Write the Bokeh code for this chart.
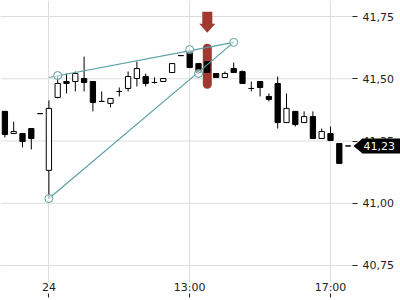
from bokeh.plotting import figure
from bokeh.models import Range1d, FixedTicker, Label, PolyAnnotation, BoxAnnotation, ColumnDataSource
from bokeh.embed import file_html
from bokeh.resources import INLINE

# ---- data (15-minute candles) ----
opens = [41.369, 41.280, 41.280, 41.300, 41.360, 41.132, 41.425, 41.489, 41.489, 41.501,
         41.489, 41.409, 41.401, 41.449, 41.461, 41.501, 41.509, 41.485, 41.489, 41.525,
         41.593, 41.609, 41.561, 41.569, 41.521, 41.505, 41.541, 41.529, 41.461, 41.489,
         41.429, 41.481, 41.324, 41.369, 41.324, 41.348, 41.260, 41.280, 41.240, 41.230]
highs = [41.369, 41.328, 41.280, 41.300, 41.360, 41.413, 41.513, 41.521, 41.529, 41.589,
         41.489, 41.449, 41.421, 41.465, 41.529, 41.569, 41.521, 41.505, 41.501, 41.561,
         41.593, 41.617, 41.561, 41.569, 41.521, 41.529, 41.565, 41.533, 41.489, 41.489,
         41.441, 41.509, 41.441, 41.369, 41.369, 41.369, 41.300, 41.308, 41.240, 41.230]
lows = [41.264, 41.280, 41.224, 41.216, 41.360, 41.019, 41.421, 41.441, 41.449, 41.449,
        41.369, 41.409, 41.385, 41.429, 41.449, 41.469, 41.469, 41.481, 41.489, 41.525,
        41.593, 41.545, 41.521, 41.525, 41.505, 41.505, 41.525, 41.481, 41.449, 41.429,
        41.409, 41.300, 41.324, 41.308, 41.324, 41.260, 41.260, 41.252, 41.160, 41.230]
closes = [41.276, 41.288, 41.248, 41.260, 41.360, 41.381, 41.481, 41.481, 41.521, 41.485,
          41.405, 41.409, 41.421, 41.449, 41.509, 41.541, 41.481, 41.485, 41.501, 41.561,
          41.593, 41.545, 41.525, 41.525, 41.505, 41.521, 41.525, 41.481, 41.461, 41.465,
          41.417, 41.324, 41.381, 41.316, 41.348, 41.260, 41.288, 41.252, 41.160, 41.230]

x_tick_positions = [5, 21, 37]
x_tick_labels = ["24", "13:00", "17:00"]
y_ticks = [40.75, 41.00, 41.25, 41.50, 41.75]
y_tick_labels = ["40,75", "41,00", "41,25", "41,50", "41,75"]

# drawing tools (trend lines and their anchor points)
line1_x = [5, 26]
line1_y = [41.505, 41.646]
line2_x = [5, 26]
line2_y = [41.019, 41.646]
anchor_x = [5, 6, 21, 22, 26]
anchor_y = [41.019, 41.513, 41.617, 41.521, 41.646]

# signal marker
signal_idx = 23
signal_low = 41.478
signal_high = 41.623
arrow_top = 41.769
arrow_neck = 41.721
arrow_tip = 41.685

last_price = 41.23

TEAL = "#5a9fa6"
RED = "#a03a31"
FONT = "DejaVu Sans"

n = len(opens)
idx = list(range(n))
src = ColumnDataSource(dict(
    x=idx,
    high=highs,
    low=lows,
    top=[max(o, c) for o, c in zip(opens, closes)],
    bottom=[min(o, c) for o, c in zip(opens, closes)],
    fill=["black" if c < o else "white" for o, c in zip(opens, closes)],
))

X0 = -0.5            # left edge of the price area
X_AXIS = 39.5        # where the price scale sits (right edge of the candle area)
PX_PER_BAR = 8.8
X1 = X0 + 400 / PX_PER_BAR

p = figure(width=400, height=300, output_backend="svg", toolbar_location=None,
           x_range=Range1d(X0, X1), y_range=Range1d(40.6817, 41.8143),
           y_axis_location="right",
           min_border_left=0, min_border_top=0, min_border_right=0, min_border_bottom=18)
p.outline_line_color = None
p.background_fill_color = "white"

# axes
p.xaxis.ticker = FixedTicker(ticks=x_tick_positions)
p.xaxis.major_label_overrides = dict(zip(x_tick_positions, x_tick_labels))
p.xaxis.minor_tick_line_color = None
p.xaxis.axis_line_color = None
p.xaxis.major_tick_in = -11
p.xaxis.major_tick_out = 15
p.xaxis.major_label_standoff = -17
p.xaxis.major_tick_line_color = "#222222"

p.yaxis.fixed_location = X_AXIS
p.yaxis.ticker = FixedTicker(ticks=y_ticks)
p.yaxis.major_label_overrides = dict(zip(y_ticks, y_tick_labels))
p.yaxis.minor_tick_line_color = None
p.yaxis.axis_line_color = None
p.yaxis.major_tick_in = 0
p.yaxis.major_tick_out = 5
p.yaxis.major_label_standoff = 5
p.yaxis.major_tick_line_color = "#222222"

for ax in (p.xaxis, p.yaxis):
    ax.major_label_text_font = FONT
    ax.major_label_text_font_size = "11px"
    ax.major_label_text_color = "#222222"

p.xgrid.grid_line_color = "#dddddd"
p.xgrid.grid_line_width = 1
p.ygrid.visible = False
# horizontal grid lines only across the candle area
p.segment(x0=[X0] * len(y_ticks), y0=y_ticks, x1=[X_AXIS] * len(y_ticks), y1=y_ticks,
          line_color="#dddddd", line_width=1, level="underlay")

# signal bar behind the candles
p.segment(x0=[signal_idx], y0=[signal_low], x1=[signal_idx], y1=[signal_high],
          line_color=RED, line_width=9, line_cap="round")

# candles
p.segment(x0="x", y0="low", x1="x", y1="high", source=src, line_color="black", line_width=1)
p.vbar(x="x", top="top", bottom="bottom", width=0.6, source=src,
       fill_color="fill", line_color="black", line_width=1)

# trend lines
p.line(line1_x, line1_y, line_color=TEAL, line_width=1.2)
p.line(line2_x, line2_y, line_color=TEAL, line_width=1.2)
p.scatter(anchor_x, anchor_y, marker="circle", size=8, fill_color="white", fill_alpha=0.6,
          line_color=TEAL, line_width=1)

# signal arrow
hs, hh = 0.57, 0.91
p.patch([signal_idx - hs, signal_idx + hs, signal_idx + hs, signal_idx + hh, signal_idx,
         signal_idx - hh, signal_idx - hs],
        [arrow_top, arrow_top, arrow_neck, arrow_neck, arrow_tip, arrow_neck, arrow_neck],
        fill_color=RED, line_color=None)

# last price tag on the price scale
px = 1.0 / PX_PER_BAR
py = (p.y_range.end - p.y_range.start) / 282.0
p.add_layout(PolyAnnotation(xs=[X_AXIS + 1 * px, X_AXIS + 10 * px, X_AXIS + 10 * px],
                            ys=[last_price, last_price + 7.5 * py, last_price - 7.5 * py],
                            fill_color="black", fill_alpha=1, line_color=None))
p.add_layout(BoxAnnotation(left=X_AXIS + 9.5 * px, bottom=last_price - 7.5 * py,
                           top=last_price + 7.5 * py, fill_color="black", fill_alpha=1,
                           line_color=None))
p.add_layout(Label(x=X_AXIS, y=last_price, x_offset=11, text=f"{last_price:.2f}".replace(".", ","),
                   text_align="left", text_baseline="middle", text_color="white",
                   text_font=FONT, text_font_size="11px"))

open("out.html", "w").write(file_html(p, INLINE))
